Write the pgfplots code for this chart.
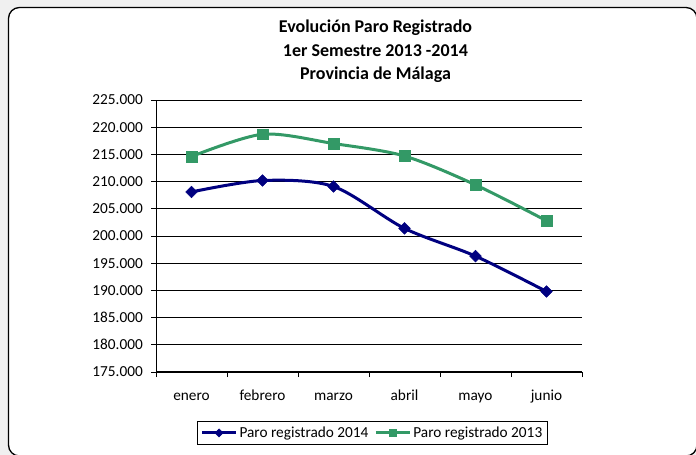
\documentclass[border=0pt]{standalone}
\usepackage{fontspec}
\setmainfont{Carlito}
\usepackage{pgfplots}
\pgfplotsset{compat=1.18}
\definecolor{navyb}{HTML}{000080}
\definecolor{seag}{HTML}{339966}
\definecolor{bgg}{HTML}{F0F0F0}
\begin{document}
\begin{tikzpicture}[x=1pt,y=1pt]
\useasboundingbox (0,0) rectangle (696,455);
\begin{scope}
\clip (0,0) rectangle (696,455);
\fill[bgg] (0,0) rectangle (696,455);
\draw[line width=1.3pt, fill=white, rounded corners=11pt] (8.5,-1) rectangle (697,447.5);
\end{scope}
\node[font=\bfseries\fontsize{18}{22}\selectfont, anchor=base, inner sep=0pt] at (375.5,422.3) {Evolución Paro Registrado};
\node[font=\bfseries\fontsize{18}{22}\selectfont, anchor=base, inner sep=0pt] at (375.5,398.5) {1er Semestre 2013 -2014};
\node[font=\bfseries\fontsize{18}{22}\selectfont, anchor=base, inner sep=0pt] at (375.5,375) {Provincia de Málaga};
\begin{axis}[
  at={(156pt,83pt)}, anchor=south west,
  scale only axis, width=426pt, height=272pt,
  xmin=0.5, xmax=6.5, ymin=175000, ymax=225000,
  axis lines*=left,
  axis line style={-, black, line width=1pt},
  ytick={175000,180000,...,225000},
  scaled y ticks=false,
  /pgf/number format/fixed,
  /pgf/number format/1000 sep={.},
  /pgf/number format/assume math mode=true,
  ymajorgrids,
  major grid style={black, line width=0.9pt},
  tick style={black, line width=0.9pt},
  major tick length=5pt, minor tick length=5pt,
  tick align=outside,
  xtick={1,2,3,4,5,6},
  xticklabels={enero,febrero,marzo,abril,mayo,junio},
  major x tick style={draw=none},
  minor xtick={0.5,1.5,2.5,3.5,4.5,5.5,6.5},
  ticklabel style={font=\fontsize{15.3}{18}\selectfont},
  xticklabel style={anchor=base, inner sep=0pt, yshift=-23pt},
  yticklabel style={anchor=east, inner sep=0pt, xshift=-8pt},
  legend style={at={(0.508,-0.224)}, anchor=center, draw=black, line width=0.8pt,
    font=\fontsize{15.3}{18}\selectfont, inner xsep=3pt, inner ysep=3pt,
    /tikz/every even column/.append style={column sep=4pt}},
  legend columns=2,
  legend cell align=left,
  legend image code/.code={
    \draw[mark repeat=2,mark phase=2,#1, every mark/.append style={scale=0.7}]
      plot coordinates {(0pt,0pt) (17pt,0pt) (34pt,0pt)};},
]
\addplot[navyb, line width=3pt, smooth, tension=0.5, mark=square*, mark size=4.1pt,
  mark options={rotate=45, solid, line width=0.5pt}] coordinates {
  (1,208100) (2,210200) (3,209100) (4,201400) (5,196300) (6,189800)};
\addlegendentry{Paro registrado 2014}
\addplot[seag, line width=3pt, smooth, tension=0.5, mark=square*, mark size=5.4pt,
  mark options={solid, line width=0.5pt}] coordinates {
  (1,214600) (2,218700) (3,217000) (4,214700) (5,209400) (6,202800)};
\addlegendentry{Paro registrado 2013}
\end{axis}
\end{tikzpicture}
\end{document}
